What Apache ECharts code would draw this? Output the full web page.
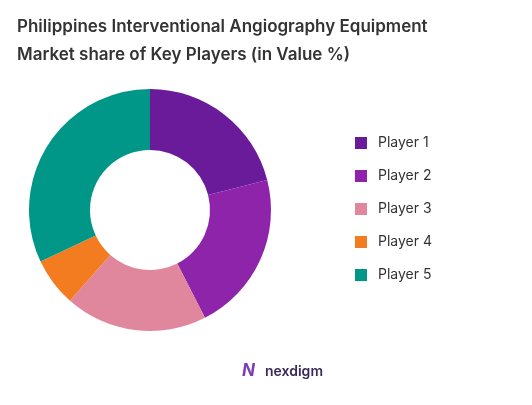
<!DOCTYPE html>
<html>
<head>
<meta charset="utf-8">
<script src="https://cdn.jsdelivr.net/npm/echarts@6/dist/echarts.min.js"></script>
<style>html,body{margin:0;padding:0;background:#fff}#chart{width:532px;height:405px}</style>
</head>
<body>
<div id="chart"></div>
<script>
const players = ['Player 1', 'Player 2', 'Player 3', 'Player 4', 'Player 5'];
const shares = [21, 21.5, 19, 6.5, 32];
const colors = ['#6a1b9a', '#8e24aa', '#e0879e', '#f47c20', '#009688'];

var myChart = echarts.init(document.getElementById('chart'));
var option = {
    title: {
        text: 'Philippines Interventional Angiography Equipment\nMarket share of Key Players (in Value %)',
        left: 12, top: 8,
        textStyle: { fontFamily: 'Inter', fontSize: 17, fontWeight: 600, color: '#333', lineHeight: 28 }
    },
    color: colors,
    legend: {
        orient: 'vertical', left: 350, top: 131,
        itemWidth: 12, itemHeight: 12, itemGap: 19, icon: 'rect',
        textStyle: { fontFamily: 'Inter', fontSize: 14, color: '#333', padding: [0, 0, 0, 6] },
        data: players
    },
    graphic: [{
        type: 'text', left: 265, top: 365,
        style: { text: 'nexdigm', font: '600 14px Inter', fill: '#3a2a5a' }
    }, {
        type: 'text', left: 242, top: 362,
        style: { text: 'N', font: 'italic 700 17px Inter', fill: '#7a3fb0' }
    }],
    series: [{
        type: 'pie',
        center: [150, 210],
        radius: [60, 121],
        startAngle: 90,
        label: { show: false },
        labelLine: { show: false },
        data: players.map((p, i) => ({ name: p, value: shares[i] }))
    }]
};
myChart.setOption(option);
window.addEventListener('resize', () => myChart.resize());
</script>
</body>
</html>
